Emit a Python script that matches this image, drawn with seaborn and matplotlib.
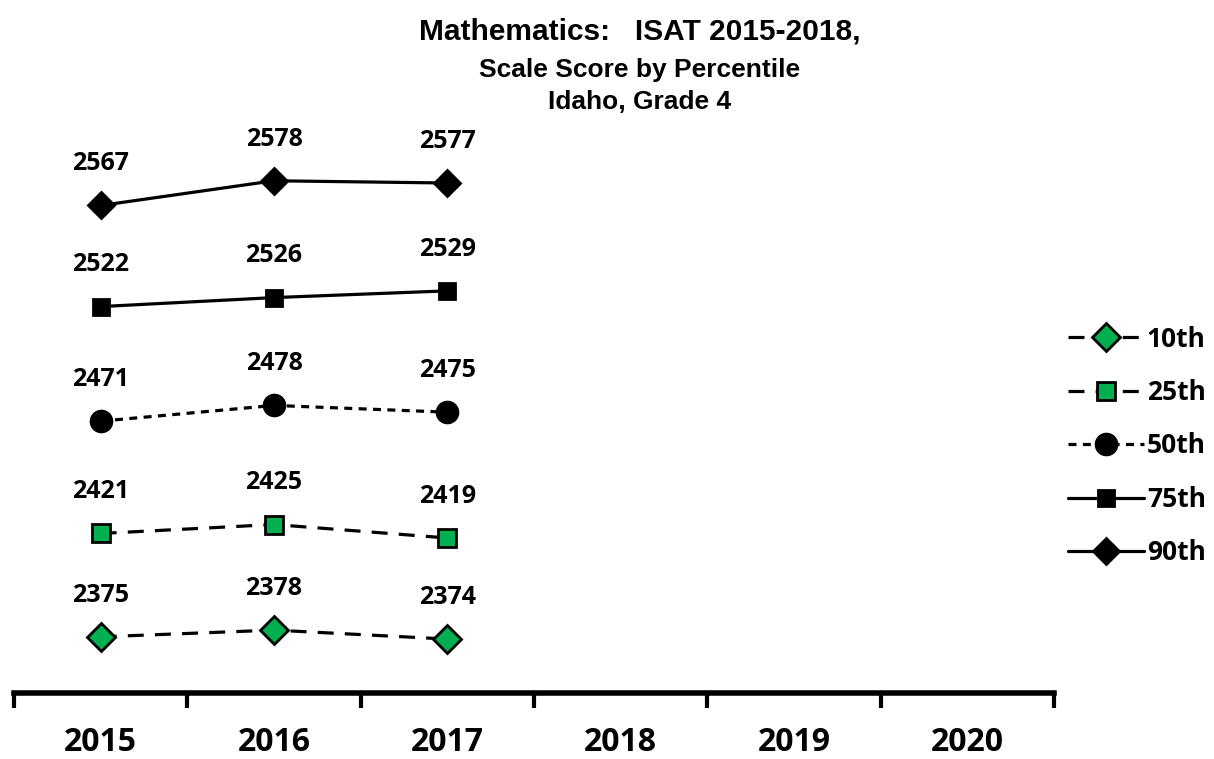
"""
Mathematics ISAT 2015-2018, scale score by percentile, Idaho grade 4.
"""

import numpy as np
import matplotlib.pyplot as plt
import seaborn as sns

YEARS = [2015, 2016, 2017, 2018, 2019, 2020]
DATA_YEARS = [2015, 2016, 2017]

P10 = [2375, 2378, 2374]
P25 = [2421, 2425, 2419]
P50 = [2471, 2478, 2475]
P75 = [2522, 2526, 2529]
P90 = [2567, 2578, 2577]

LABELS = ["10th", "25th", "50th", "75th", "90th"]

GREEN = "#00B050"

# marker, face colour, dash pattern, marker size
STYLES = {
    "10th": ("D", GREEN, (5, 3.5), 14),
    "25th": ("s", GREEN, (5, 3.5), 13),
    "50th": ("o", "black", (2.5, 2), 15),
    "75th": ("s", "black", None, 12),
    "90th": ("D", "black", None, 13),
}


def main():
    sns.set_style("white")
    plt.rcParams["font.family"] = ["Open Sans", "DejaVu Sans"]
    plt.rcParams["text.color"] = "black"
    plt.rcParams["xtick.color"] = "black"
    plt.rcParams["xtick.labelcolor"] = "black"

    fig = plt.figure(figsize=(12.14, 7.59), dpi=100)
    ax = fig.add_axes([14 / 1214, 66 / 759, 1040 / 1214, 0.74])

    series = [P10, P25, P50, P75, P90]
    for name, vals in zip(LABELS, series):
        marker, face, dash, ms = STYLES[name]
        sns.lineplot(
            x=DATA_YEARS, y=vals, ax=ax, color="black", linewidth=2.3,
            marker=marker, markersize=ms, markerfacecolor=face,
            markeredgecolor="black", markeredgewidth=2, label=name,
        )
        line = ax.lines[-1]
        if dash is not None:
            line.set_dashes(dash)
        for x, v in zip(DATA_YEARS, vals):
            ax.annotate(
                f"{v}", (x, v), xytext=(0, 21), textcoords="offset points",
                ha="center", va="bottom", fontsize=18, fontweight="bold",
            )

    ax.set_xlim(YEARS[0] - 0.5, YEARS[-1] + 0.5)
    ax.set_ylim(2350, 2600)
    ax.set_yticks([])
    ax.set_xticks(YEARS)
    ax.set_xticklabels([str(y) for y in YEARS], fontsize=23, fontweight="bold")
    ax.set_xticks(np.arange(YEARS[0] - 0.5, YEARS[-1] + 1), minor=True)
    ax.tick_params(axis="x", which="major", length=0, pad=24)
    ax.tick_params(axis="x", which="minor", length=11, width=3,
                   direction="out", color="black", bottom=True)
    for side in ["top", "right", "left"]:
        ax.spines[side].set_visible(False)
    ax.spines["bottom"].set_linewidth(4)
    ax.spines["bottom"].set_color("black")

    ax.legend(
        loc="center left", bbox_to_anchor=(1.0, 0.44), frameon=False,
        borderaxespad=0.12, handlelength=2.9, labelspacing=1.0,
        handletextpad=0.1, prop={"weight": "bold", "size": 19},
    )

    title_font = ["Liberation Sans Narrow", "Liberation Sans", "DejaVu Sans"]
    fig.text(0.527, 0.958, "Mathematics:   ISAT 2015-2018,", ha="center",
             va="center", fontsize=21.5, fontweight="bold", family=title_font)
    fig.text(0.527, 0.908, "Scale Score by Percentile", ha="center",
             va="center", fontsize=19, fontweight="bold", family=title_font)
    fig.text(0.527, 0.866, "Idaho, Grade 4", ha="center",
             va="center", fontsize=19, fontweight="bold", family=title_font)

    fig.savefig("out.png", dpi=100)
    plt.close(fig)


if __name__ == "__main__":
    main()
